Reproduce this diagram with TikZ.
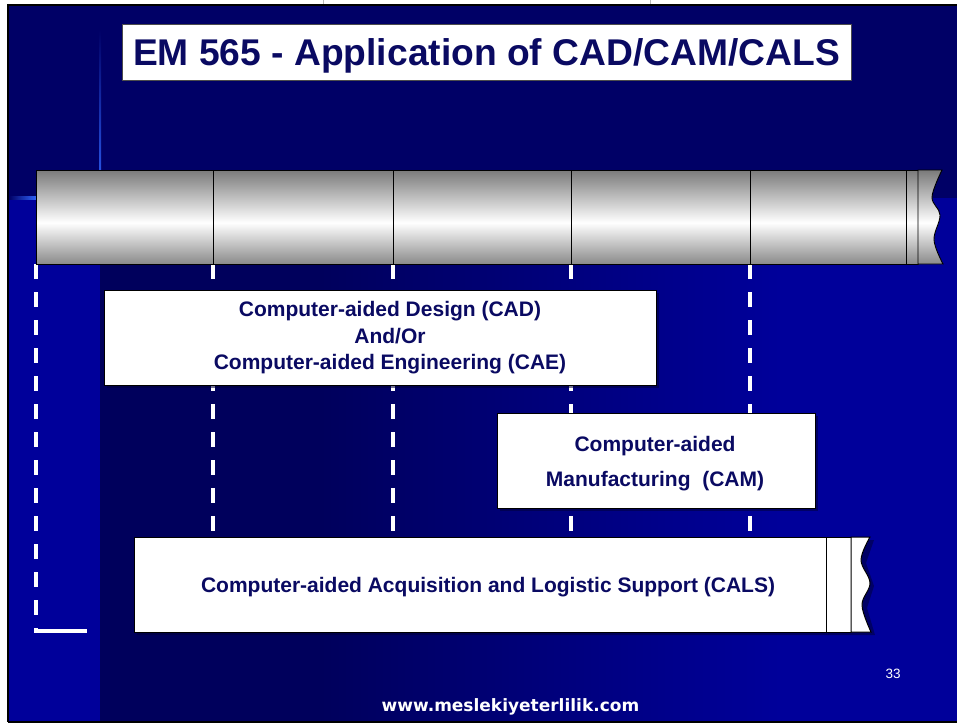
\documentclass[tikz,border=0pt]{standalone}
\usepackage{fontspec}
\setmainfont{Liberation Sans}
\newfontfamily\sitefont{DejaVu Sans}
\usetikzlibrary{calc}

\definecolor{slidenavy}{HTML}{000066}
\definecolor{slidedark}{HTML}{00005C}
\definecolor{slidebright}{HTML}{00009A}
\definecolor{accentblue}{HTML}{2F62F8}
\definecolor{labelblue}{HTML}{0A0A62}
\definecolor{tubetop}{HTML}{7A7A7A}
\definecolor{tubebottom}{HTML}{8A8A8A}
\definecolor{boxshadow}{HTML}{00003A}

% metallic look of the time bar: grey edges, bright band a little below the middle
\pgfdeclareverticalshading{tube}{100bp}{color(0bp)=(tubebottom); color(25bp)=(tubebottom); color(47bp)=(white); color(75bp)=(tubetop); color(100bp)=(tubetop)}

\tikzset{
  stagebox/.style={draw=black, line width=1pt, fill=white, minimum height=95pt, inner sep=0pt, outer sep=0pt},
  boxshade/.style={fill=boxshadow, fill opacity=0.55},
  stagelabel/.style={text=labelblue, font=\bfseries\fontsize{21}{26.5}\selectfont, align=center, inner sep=0pt},
  timeline/.style={draw=white, line width=3.5pt, dash pattern=on 15pt off 13pt},
  tubepart/.style={draw=black, line width=0.9pt, shade, shading=tube},
  tubeline/.style={draw=black, line width=0.9pt},
}

\begin{document}
\begin{tikzpicture}[x=1pt,y=-1pt]
\useasboundingbox (0,0) rectangle (957,723);
\fill[white] (0,0) rectangle (957,723);

% slide background
\fill[slidenavy] (8,5) rectangle (957,721);
\fill[slidedark] (100,198) rectangle (320,721);
\shade[left color=slidedark, right color=slidebright] (319.5,198) rectangle (780,721);
\fill[slidebright] (779.5,198) rectangle (957,721);
\fill[slidebright] (8,198) rectangle (100,721);

% accent rules of the slide template
\shade[top color=slidenavy, bottom color=accentblue] (99.2,30) rectangle (101,198);
\shade[left color=slidenavy, right color=accentblue] (9,196.8) rectangle (36,199.4);

% slide frame
\draw[line width=2.5pt] (8,5) -- (957,5);
\draw[line width=2.5pt] (8,3.75) -- (8,722);
\draw[line width=2pt] (8,721.5) -- (957,721.5);
\draw[gray!55, line width=0.8pt] (323,0) -- (323,3.8);
\draw[gray!55, line width=0.8pt] (650,0) -- (650,3.8);

% title
\node[draw=gray!60!black, line width=1pt, fill=white, minimum width=729pt, minimum height=56pt,
      inner sep=0pt, text=labelblue, font=\bfseries\fontsize{37.2}{40}\selectfont,
      text height=26.5pt, text depth=0pt] (title) at (486.5,52) {EM 565 - Application of CAD/CAM/CALS};

% tick points under the time bar and their ends at the CALS bar
\coordinate (t0) at (36,264);
\coordinate (t1) at (213,264);
\coordinate (t2) at (393,264);
\coordinate (t3) at (571,264);
\coordinate (t4) at (750,264);
\coordinate (e0) at (36,631);
\coordinate (e0r) at (87,631);
\coordinate (e1) at (213,536);
\coordinate (e2) at (393,536);
\coordinate (e3) at (571,536);
\coordinate (e4) at (750,536);

\draw[timeline] (t0) -- (e0);
\draw[white, line width=3.5pt] ($(e0)+(-1.75,0)$) -- (e0r);
\foreach \i in {1,2,3,4} \draw[timeline] (t\i) -- (e\i);

% CAD / CAE stage
\fill[boxshade] (107,293) rectangle (659,388);
\node[stagebox, minimum width=552pt] (cad) at (380,337.5) {};
\node[stagelabel] (cadtext) at (390,338) {Computer-aided Design (CAD)\\And/Or\\Computer-aided Engineering (CAE)};

% CAM stage
\fill[boxshade] (500,416) rectangle (818,511);
\node[stagebox, minimum width=318pt] (cam) at (656,460.5) {};
\node[stagelabel, font=\bfseries\fontsize{21}{35}\selectfont] (camtext) at (655,463.5) {Computer-aided\\Manufacturing\ \ (CAM)};

% CALS stage, open-ended
\fill[boxshade] (137,540) -- (854,540) -- (874,540) -- (866,563) -- (874,586) -- (867,608) -- (875,635) -- (137,635) -- cycle;
\node[stagebox, minimum width=692pt] (cals) at (480,584.5) {};
\node[stagebox, minimum width=25pt] (calsband) at (838.5,584.5) {};
\draw[fill=white, line width=1pt] (calsband.north east)
  -- plot[smooth, tension=0.6] coordinates {(870,537) (861,560) (870,583) (862,605) (871,632)}
  -- (calsband.south east) -- cycle;
\node[stagelabel] (calstext) at (488,587) {Computer-aided Acquisition and Logistic Support (CALS)};

% time bar
\node[tubepart, minimum width=870pt, minimum height=94pt, inner sep=0pt, outer sep=0pt] (tube) at (471,217) {};
\foreach \x in {213,393,571,750} \draw[tubeline] (\x,170) -- (\x,264);
\node[tubepart, minimum width=12pt, minimum height=94pt, inner sep=0pt, outer sep=0pt] (tubeband) at (912,217) {};
\path[tubepart] (tubeband.north east)
  -- plot[smooth, tension=0.6] coordinates {(942,170) (932,197) (940,215) (934,240) (943,264)}
  -- (tubeband.south east) -- cycle;

% footer
\node[text=white, font=\fontsize{13.5}{15}\selectfont, anchor=base, inner sep=0pt] (pageno) at (893,678) {33};
\node[text=white, font=\sitefont\bfseries\fontsize{17}{19}\selectfont, anchor=base, inner sep=0pt] (site) at (510.5,711) {www.meslekiyeterlilik.com};
\end{tikzpicture}
\end{document}
